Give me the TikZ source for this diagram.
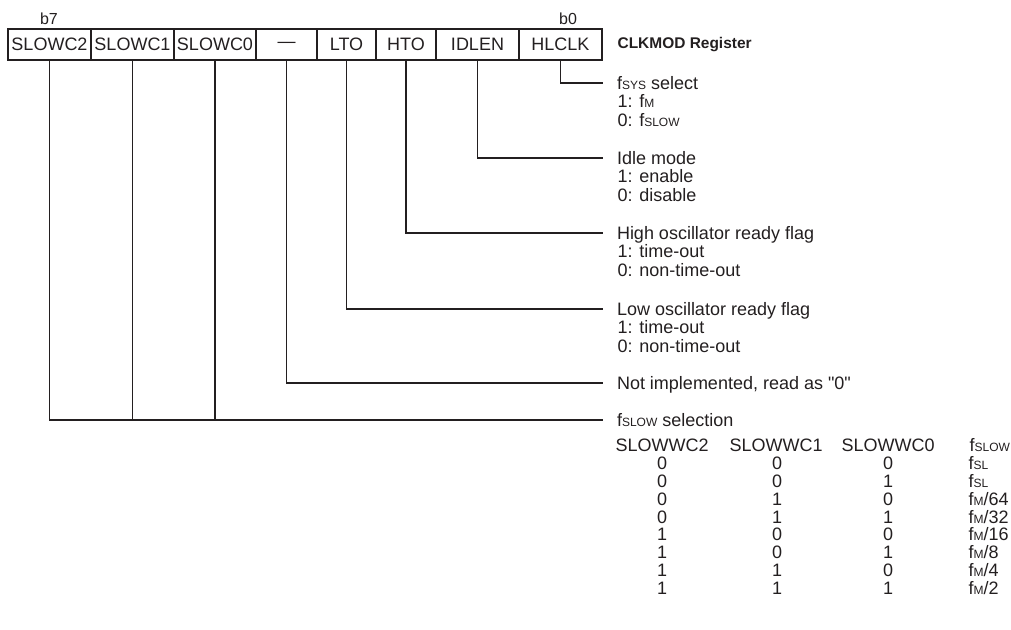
\documentclass[tikz,border=0pt]{standalone}
\usepackage{fontspec}
\setmainfont{Liberation Sans}[Ligatures=TeXOff]
\definecolor{ink}{RGB}{35,31,32}
\newcommand{\smc}[1]{{\fontsize{9pt}{10pt}\selectfont #1}}
\begin{document}
\begin{tikzpicture}[x=0.75pt,y=-0.75pt,line width=0.9pt,draw=ink,text=ink,
  txt/.style={font=\fontsize{13.5pt}{16pt}\selectfont},
  cell/.style={draw,rectangle,inner sep=0pt,minimum height=23.25pt,minimum width=#1,txt},
  head/.style={anchor=west,inner xsep=0pt,inner ysep=0pt,outer xsep=10.5pt,outer ysep=0pt,
    text height=9.7pt,text depth=0pt,txt},
  sub/.style={anchor=base west,inner sep=0pt,txt},
  tc/.style={anchor=base,inner sep=0pt,txt},
  tl/.style={anchor=base west,inner sep=0pt,txt},
  bit/.style={anchor=base,inner sep=0pt,font=\fontsize{12pt}{14pt}\selectfont}]
\useasboundingbox (0,0) rectangle (1011,630);

% bit labels
\node[bit] (b7) at (49,24.5) {b7};
\node[bit] (b0) at (568,24.5) {b0};

% register cells
\node[cell=62.25pt] (s2)    at (49.5,44.5)  {SLOWC2};
\node[cell=62.25pt] (s1)    at (132.5,44.5) {SLOWC1};
\node[cell=61.5pt]  (s0)    at (215,44.5)   {SLOWC0};
\node[cell=45.75pt] (dash)  at (286.5,44.5) {—};
\node[cell=44.25pt] (lto)   at (346.5,44.5) {LTO};
\node[cell=45pt]    (hto)   at (406,44.5)   {HTO};
\node[cell=62.25pt] (idlen) at (477.5,44.5) {IDLEN};
\node[cell=62.25pt] (hlclk) at (560.5,44.5) {HLCLK};
\node[anchor=west,inner sep=0pt,font=\bfseries\fontsize{11.6pt}{14pt}\selectfont] (title) at (617,44.5) {CLKMOD Register};

% descriptions
\node[head] (h1) at (603,83) {f\smc{SYS} select};
\node[sub] (h1a) at (617,107.8) {1: f\smc{M}};
\node[sub] (h1b) at (617,126.1) {0: f\smc{SLOW}};

\node[head] (h2) at (603,158) {Idle mode};
\node[sub] (h2a) at (617,182.8) {1: enable};
\node[sub] (h2b) at (617,201.1) {0: disable};

\node[head] (h3) at (603,233) {High oscillator ready flag};
\node[sub] (h3a) at (617,257.8) {1: time-out};
\node[sub] (h3b) at (617,276.1) {0: non-time-out};

\node[head] (h4) at (603,309) {Low oscillator ready flag};
\node[sub] (h4a) at (617,333.8) {1: time-out};
\node[sub] (h4b) at (617,352.1) {0: non-time-out};

\node[head] (h5) at (603,383) {Not implemented, read as "0"};

\node[head] (h6) at (603,420) {f\smc{SLOW} selection};

% connectors
\draw (hlclk.south) |- (h1.west);
\draw (idlen.south) |- (h2.west);
\draw (hto.south) |- (h3.west);
\draw (lto.south) |- (h4.west);
\draw (dash.south) |- (h5.west);
\draw (s2.south) |- (h6.west);
\draw (s1.south) -- (s1.south |- h6.west);
\draw (s0.south) -- (s0.south |- h6.west);

% table header
\node[tc] (th1) at (662,451.5) {SLOWWC2};
\node[tc] (th2) at (776,451.5) {SLOWWC1};
\node[tc] (th3) at (888,451.5) {SLOWWC0};
\node[tl] (th4) at (969,451.5) {f\smc{SLOW}};

% table rows
\node[tc] (r1a) at (662,469.4) {0}; \node[tc] (r1b) at (777,469.4) {0}; \node[tc] (r1c) at (888,469.4) {0}; \node[tl] (r1d) at (968,469.4) {f\smc{SL}};
\node[tc] (r2a) at (662,487.3) {0}; \node[tc] (r2b) at (777,487.3) {0}; \node[tc] (r2c) at (888,487.3) {1}; \node[tl] (r2d) at (968,487.3) {f\smc{SL}};
\node[tc] (r3a) at (662,505.2) {0}; \node[tc] (r3b) at (777,505.2) {1}; \node[tc] (r3c) at (888,505.2) {0}; \node[tl] (r3d) at (968,505.2) {f\smc{M}/64};
\node[tc] (r4a) at (662,523.1) {0}; \node[tc] (r4b) at (777,523.1) {1}; \node[tc] (r4c) at (888,523.1) {1}; \node[tl] (r4d) at (968,523.1) {f\smc{M}/32};
\node[tc] (r5a) at (662,541.0) {1}; \node[tc] (r5b) at (777,541.0) {0}; \node[tc] (r5c) at (888,541.0) {0}; \node[tl] (r5d) at (968,541.0) {f\smc{M}/16};
\node[tc] (r6a) at (662,558.9) {1}; \node[tc] (r6b) at (777,558.9) {0}; \node[tc] (r6c) at (888,558.9) {1}; \node[tl] (r6d) at (968,558.9) {f\smc{M}/8};
\node[tc] (r7a) at (662,576.8) {1}; \node[tc] (r7b) at (777,576.8) {1}; \node[tc] (r7c) at (888,576.8) {0}; \node[tl] (r7d) at (968,576.8) {f\smc{M}/4};
\node[tc] (r8a) at (662,594.7) {1}; \node[tc] (r8b) at (777,594.7) {1}; \node[tc] (r8c) at (888,594.7) {1}; \node[tl] (r8d) at (968,594.7) {f\smc{M}/2};
\end{tikzpicture}
\end{document}
